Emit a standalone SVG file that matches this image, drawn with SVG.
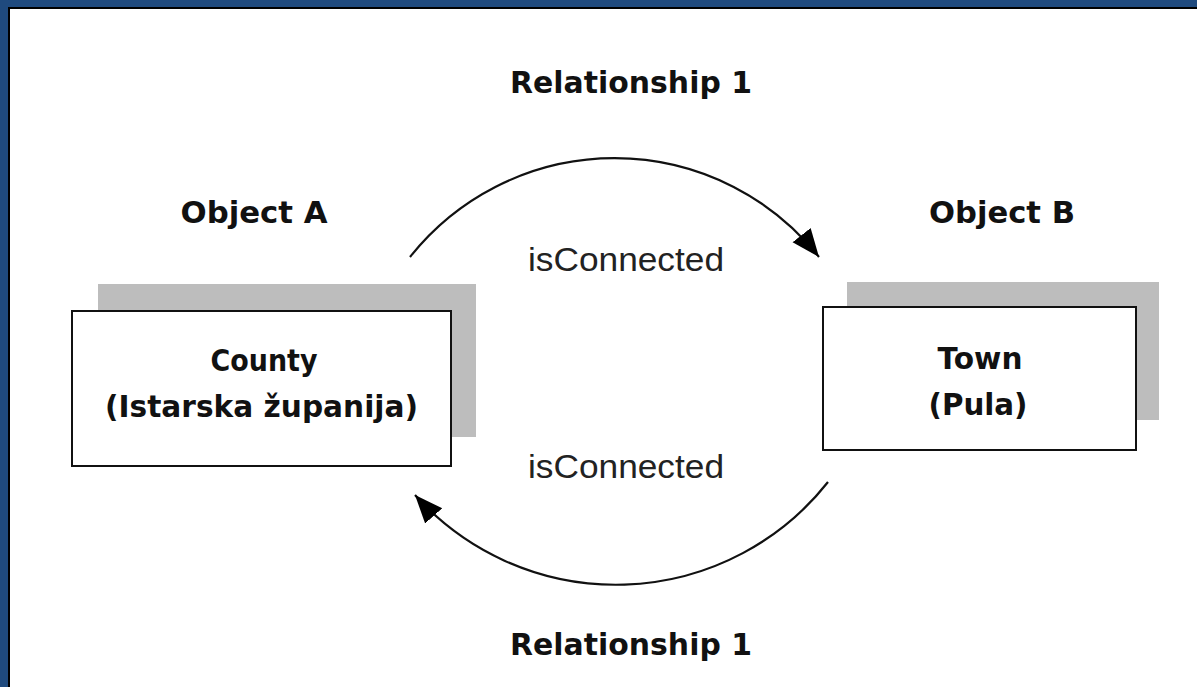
<svg xmlns="http://www.w3.org/2000/svg" width="1197" height="687" viewBox="0 0 1197 687">
<style>
.b{font-family:"DejaVu Sans","Liberation Sans",sans-serif;font-weight:bold;font-size:31px;fill:#111;text-anchor:middle}
.r{font-family:"Liberation Sans",Arial,sans-serif;font-size:34px;fill:#222;text-anchor:middle}
.box{fill:#fff;stroke:#111;stroke-width:2}
.shadow{fill:#bdbdbd}
.arc{fill:none;stroke:#111;stroke-width:2.2}
</style>
<defs>
<marker id="ah" markerUnits="userSpaceOnUse" markerWidth="30" markerHeight="26" viewBox="0 0 30 26" refX="28" refY="13" orient="auto">
<path d="M0,1.5 L28,13 L0,24.5 Z" fill="#000"/>
</marker>
</defs>
<rect x="0" y="0" width="1197" height="687" fill="#fff"/>
<rect x="0" y="0" width="1197" height="7" fill="#1f4a7e"/>
<rect x="0" y="0" width="8" height="687" fill="#1f4a7e"/>
<rect x="8" y="7" width="1189" height="2" fill="#000"/>
<rect x="8" y="7" width="2" height="680" fill="#000"/>

<text class="b" x="631" y="93" textLength="242" lengthAdjust="spacingAndGlyphs">Relationship 1</text>
<text class="b" x="631" y="655" textLength="242" lengthAdjust="spacingAndGlyphs">Relationship 1</text>
<text class="b" x="254" y="223" textLength="147" lengthAdjust="spacingAndGlyphs">Object A</text>
<text class="b" x="1002" y="223" textLength="146" lengthAdjust="spacingAndGlyphs">Object B</text>

<g id="connectors">
<path class="arc" d="M410,257 A261,261 0 0 1 819,257" marker-end="url(#ah)"/>
<text class="r" x="626" y="271" textLength="196" lengthAdjust="spacingAndGlyphs">isConnected</text>
<path class="arc" d="M828,482 A270,270 0 0 1 415,495" marker-end="url(#ah)"/>
<text class="r" x="626" y="478" textLength="196" lengthAdjust="spacingAndGlyphs">isConnected</text>
</g>

<g id="county">
<rect class="shadow" x="98" y="284" width="378" height="153"/>
<rect class="box" x="72" y="311" width="379" height="155"/>
<text class="b" x="264" y="371" textLength="107" lengthAdjust="spacingAndGlyphs">County</text>
<text class="b" x="261.5" y="417" textLength="313" lengthAdjust="spacingAndGlyphs">(Istarska županija)</text>
</g>

<g id="town">
<rect class="shadow" x="847" y="282" width="312" height="138"/>
<rect class="box" x="823" y="307" width="313" height="143"/>
<text class="b" x="980" y="369" textLength="85" lengthAdjust="spacingAndGlyphs">Town</text>
<text class="b" x="978" y="415" textLength="99" lengthAdjust="spacingAndGlyphs">(Pula)</text>
</g>
</svg>
